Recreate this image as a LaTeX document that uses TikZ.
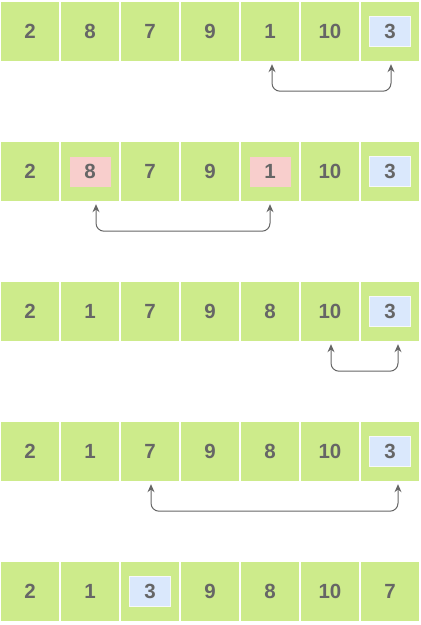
\documentclass[tikz,border=0pt]{standalone}
\usepackage{fontspec}
\setmainfont{Liberation Sans}
\usetikzlibrary{arrows.meta}
\definecolor{cellg}{HTML}{CDEB8B}
\definecolor{hlblue}{HTML}{DAE8FC}
\definecolor{hlpink}{HTML}{F8CECC}
\definecolor{txt}{HTML}{666666}
\begin{document}
\begin{tikzpicture}[x=1pt,y=-1pt,
  cell/.style={fill=cellg, minimum width=58pt, minimum height=59pt, inner sep=0pt, font=\fontsize{20.5}{20.5}\selectfont\bfseries, text=txt},
  hl/.style={minimum width=41pt, minimum height=30pt, inner sep=0pt, font=\fontsize{20.5}{20.5}\selectfont\bfseries, text=txt},
  hlb/.style={hl, fill=hlblue, draw=hlblue!80!black!10!white},
  hlp/.style={hl, fill=hlpink},
  conn/.style={draw=txt, line width=1pt, rounded corners=8pt, {Stealth[length=8pt,width=7pt]}-{Stealth[length=8pt,width=7pt]}}]
\useasboundingbox (0,0) rectangle (421,625);
% row 1
\foreach \v [count=\i] in {2,8,7,9,1,10,{}} {\node[cell] (r1c\i) at ({30+60*(\i-1)},31.5) {\v};}
\node[hlb] (h1) at (r1c7) {3};
% row 2
\foreach \v [count=\i] in {2,{},7,9,{},10,{}} {\node[cell] (r2c\i) at ({30+60*(\i-1)},171.5) {\v};}
\node[hlp] (h2a) at (r2c2) {8};
\node[hlp] (h2b) at (r2c5) {1};
\node[hlb] (h2c) at (r2c7) {3};
% row 3
\foreach \v [count=\i] in {2,1,7,9,8,10,{}} {\node[cell] (r3c\i) at ({30+60*(\i-1)},311.5) {\v};}
\node[hlb] (h3) at (r3c7) {3};
% row 4
\foreach \v [count=\i] in {2,1,7,9,8,10,{}} {\node[cell] (r4c\i) at ({30+60*(\i-1)},451.5) {\v};}
\node[hlb] (h4) at (r4c7) {3};
% row 5
\foreach \v [count=\i] in {2,1,{},9,8,10,7} {\node[cell] (r5c\i) at ({30+60*(\i-1)},591.5) {\v};}
\node[hlb] (h5) at (r5c3) {3};
% connectors
\draw[conn] ([xshift=2pt,yshift=-3pt]r1c5.south) -- ++(0,27) -| ([xshift=1pt,yshift=-3pt]r1c7.south);
\draw[conn] ([xshift=6pt,yshift=-3pt]r2c2.south) -- ++(0,27) -| ([xshift=0pt,yshift=-3pt]r2c5.south);
\draw[conn] ([xshift=1pt,yshift=-3pt]r3c6.south) -- ++(0,27) -| ([xshift=8pt,yshift=-3pt]r3c7.south);
\draw[conn] ([xshift=1pt,yshift=-3pt]r4c3.south) -- ++(0,27) -| ([xshift=8pt,yshift=-3pt]r4c7.south);
\end{tikzpicture}
\end{document}
